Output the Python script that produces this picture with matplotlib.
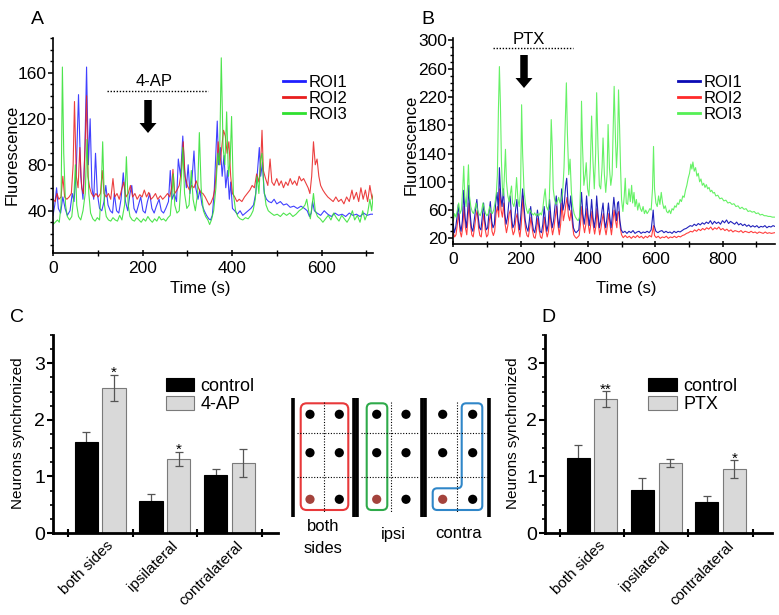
import numpy as np
import matplotlib
matplotlib.use("Agg")
import matplotlib.pyplot as plt
from matplotlib.lines import Line2D
from matplotlib.patches import Circle, FancyBboxPatch, PathPatch, Polygon
from matplotlib.path import Path
from matplotlib.ticker import MultipleLocator
from matplotlib.transforms import ScaledTranslation

plt.rcParams['font.family'] = ['Liberation Sans', 'DejaVu Sans']

# ---- panel A traces (time s, fluorescence) ----
roi1_a = [(0,36),(4,45),(8,60),(12,42),(17,38),(22,52),(27,42),(32,36),(38,40),(43,55),(47,48),(52,75),(57,141),
          (62,70),(67,50),(71,90),(75,165),(79,80),(83,120),(87,60),(91,50),(95,90),(99,55),(104,42),(109,40),
          (114,48),(118,62),(123,45),(128,40),(133,38),(137,55),(142,40),(147,38),(152,50),(157,73),(162,48),
          (167,40),(172,55),(176,62),(181,42),(186,38),(191,45),(196,52),(201,40),(206,38),(211,48),(216,55),
          (221,42),(226,38),(231,44),(237,50),(242,40),(247,38),(252,42),(258,48),(262,75),(266,50),(271,55),
          (276,48),(280,85),(285,70),(290,105),(294,75),(298,60),(302,80),(306,55),(311,70),(315,92),(319,60),
          (324,50),(328,58),(333,45),(338,40),(343,36),(348,33),(352,32),(356,36),(360,55),(364,90),(367,118),
          (370,80),(374,95),(378,70),(382,88),(386,60),(390,75),(394,50),(397,65),(401,42),(406,40),(412,37),
          (418,40),(424,36),(430,38),(436,40),(442,42),(448,45),(453,55),(458,80),(461,95),(464,70),(468,82),
          (472,55),(477,50),(482,48),(488,47),(494,50),(500,46),(508,48),(515,45),(522,46),(530,43),(538,44),
          (546,42),(554,44),(562,42),(568,40),(573,35),(577,38),(580,48),(584,40),(590,38),(598,36),(606,40),
          (614,37),(622,35),(630,38),(638,36),(646,37),(654,35),(662,38),(670,36),(678,37),(686,35),(694,38),
          (702,36),(710,37),(718,37)]
roi2_a = [(0,50),(5,48),(9,55),(13,50),(18,52),(22,70),(26,52),(31,50),(36,52),(41,55),(45,80),(48,135),(52,70),
          (56,60),(60,95),(64,60),(68,55),(72,100),(75,140),(78,70),(82,60),(86,55),(91,52),(96,55),(101,52),
          (106,55),(110,75),(114,55),(119,52),(124,55),(129,50),(134,68),(138,52),(143,55),(148,50),(153,58),
          (158,65),(163,52),(168,55),(173,62),(178,52),(183,55),(188,50),(194,54),(199,52),(204,58),(209,52),
          (214,56),(219,50),(224,52),(229,55),(234,50),(240,53),(245,50),(250,52),(256,55),(261,52),(265,60),
          (268,76),(272,55),(277,58),(282,62),(287,75),(291,100),(295,70),(300,62),(305,58),(310,62),(315,60),
          (320,66),(325,60),(330,56),(335,55),(340,52),(345,48),(349,45),(353,47),(358,52),(362,60),(366,80),
          (369,100),(373,80),(377,95),(381,110),(385,105),(389,90),(393,100),(397,70),(401,55),(406,52),(411,48),
          (416,50),(422,48),(428,52),(434,55),(440,58),(445,62),(450,60),(455,72),(460,65),(464,80),(467,110),
          (470,75),(475,68),(480,62),(485,85),(489,65),(494,62),(500,68),(505,62),(510,66),(515,60),(520,65),
          (525,62),(530,68),(535,63),(540,66),(545,62),(550,70),(555,66),(560,68),(565,64),(570,60),(574,55),
          (578,70),(582,100),(586,80),(590,85),(594,70),(598,62),(603,58),(608,55),(614,52),(620,50),(626,48),
          (632,52),(638,48),(644,50),(650,46),(656,52),(662,48),(668,58),(672,50),(678,56),(683,48),(688,60),
          (693,50),(698,58),(703,48),(708,62),(713,50),(718,58)]
roi3_a = [(0,28),(5,30),(10,32),(14,30),(18,45),(21,165),(24,90),(28,45),(32,35),(37,32),(42,35),(47,55),(50,80),
          (53,45),(57,35),(62,32),(67,40),(72,55),(76,102),(80,55),(84,38),(89,33),(94,31),(99,34),(104,32),
          (108,60),(111,100),(115,45),(119,35),(124,32),(129,31),(134,34),(139,32),(144,31),(149,36),(154,32),
          (160,45),(164,87),(168,45),(172,35),(177,32),(182,31),(187,34),(192,32),(197,30),(202,33),(207,31),
          (212,35),(217,32),(222,30),(227,33),(232,31),(237,35),(242,32),(247,33),(252,31),(257,34),(262,36),
          (266,55),(269,72),(272,45),(277,38),(282,40),(287,70),(290,95),(294,55),(299,42),(304,45),(309,75),
          (313,50),(318,40),(323,55),(327,108),(331,60),(336,40),(341,35),(346,32),(350,28),(354,32),(359,40),
          (364,60),(368,90),(372,80),(376,173),(380,95),(384,80),(388,126),(392,70),(396,85),(399,122),(403,55),
          (408,40),(413,35),(418,33),(424,32),(430,34),(436,33),(442,36),(447,40),(452,50),(456,70),(460,55),
          (464,85),(467,90),(471,60),(476,45),(481,40),(487,38),(494,36),(501,37),(508,35),(515,38),(522,36),
          (529,38),(536,35),(543,37),(550,40),(557,42),(563,45),(567,50),(571,40),(575,33),(579,45),(582,55),
          (586,40),(591,35),(597,33),(603,30),(609,33),(615,36),(621,32),(627,38),(633,34),(639,31),(645,36),
          (651,33),(657,30),(663,34),(669,40),(674,32),(680,36),(686,30),(692,40),(697,32),(703,38),(708,50),
          (712,40),(716,55)]

# ---- panel B traces ----
roi1_b = [(0,40),(3,28),(7,35),(11,50),(15,68),(19,40),(23,30),(27,45),(31,88),(35,50),(39,35),(43,60),(46,95),
          (50,55),(54,35),(58,30),(62,45),(66,60),(70,75),(74,50),(78,35),(82,32),(86,50),(90,70),(94,45),(98,32),
          (102,35),(106,55),(110,72),(114,45),(118,35),(122,40),(126,70),(130,85),(134,60),(137,120),(141,80),
          (145,65),(149,90),(153,55),(157,40),(161,50),(165,70),(169,80),(173,50),(177,35),(181,40),(185,60),
          (189,75),(193,45),(197,32),(201,55),(206,90),(210,65),(214,45),(218,35),(222,30),(226,45),(230,65),
          (234,45),(238,32),(242,28),(246,40),(250,60),(254,45),(258,30),(262,28),(266,40),(270,65),(274,45),
          (278,30),(282,40),(286,75),(290,50),(294,35),(298,45),(302,65),(306,80),(310,50),(314,35),(318,55),
          (322,90),(326,60),(330,70),(334,95),(337,105),(341,70),(345,60),(349,80),(353,55),(357,35),(361,30),
          (365,28),(369,30),(373,32),(377,55),(381,85),(385,55),(389,40),(393,55),(396,80),(400,55),(404,38),
          (408,55),(411,75),(415,50),(419,35),(423,50),(426,80),(430,55),(434,35),(438,45),(442,60),(445,70),
          (449,45),(453,35),(457,50),(461,70),(465,50),(469,35),(473,55),(477,78),(481,60),(485,45),(488,70),
          (491,72),(495,45),(499,32),(504,28),(510,30),(516,27),(522,30),(528,28),(534,31),(540,27),(546,29),
          (552,30),(558,27),(564,29),(570,28),(576,30),(582,28),(588,32),(591,45),(594,60),(597,38),(602,30),
          (608,28),(614,30),(620,31),(626,28),(632,30),(638,28),(644,29),(650,27),(656,30),(662,28),(668,30),
          (674,29),(680,31),(686,33),(692,34),(698,36),(704,38),(710,37),(716,40),(722,38),(728,41),(734,39),
          (740,42),(746,40),(752,43),(758,41),(764,45),(770,40),(776,44),(782,41),(788,43),(794,40),(800,45),
          (806,42),(812,46),(818,41),(824,44),(830,42),(836,40),(842,43),(848,39),(854,41),(860,38),(866,40),
          (872,37),(878,39),(884,36),(890,38),(896,36),(902,38),(908,35),(914,37),(920,36),(926,38),(932,35),
          (938,37),(944,36),(950,38),(955,37)]
roi2_b = [(0,28),(4,22),(8,25),(12,40),(16,55),(20,30),(24,22),(28,35),(32,65),(36,35),(40,25),(44,50),(47,70),
          (51,40),(55,25),(59,22),(63,35),(67,50),(71,60),(75,35),(79,24),(83,22),(87,40),(91,55),(95,32),(99,22),
          (103,25),(107,45),(111,55),(115,30),(119,24),(123,30),(127,55),(131,65),(135,50),(138,90),(142,60),
          (146,50),(150,70),(154,40),(158,28),(162,38),(166,55),(170,60),(174,35),(178,25),(182,30),(186,48),
          (190,55),(194,32),(198,22),(202,40),(207,80),(211,50),(215,32),(219,24),(223,22),(227,35),(231,50),
          (235,32),(239,22),(243,20),(247,30),(251,48),(255,32),(259,22),(263,20),(267,30),(271,50),(275,32),
          (279,22),(283,30),(287,58),(291,38),(295,25),(299,35),(303,50),(307,65),(311,38),(315,25),(319,40),
          (323,70),(327,45),(331,55),(335,70),(338,78),(342,52),(346,45),(350,60),(354,40),(358,25),(362,22),
          (366,20),(370,22),(374,24),(378,40),(382,65),(386,40),(390,28),(394,40),(397,62),(401,40),(405,27),
          (409,42),(412,58),(416,38),(420,26),(424,38),(427,62),(431,40),(435,25),(439,35),(443,48),(446,55),
          (450,35),(454,25),(458,38),(462,55),(466,38),(470,25),(474,42),(478,60),(482,45),(486,35),(489,55),
          (492,58),(496,35),(500,25),(505,21),(511,24),(517,21),(523,23),(529,20),(535,23),(541,21),(547,24),
          (553,21),(559,23),(565,20),(571,23),(577,21),(583,24),(589,22),(592,30),(595,38),(598,24),(603,21),
          (609,23),(615,20),(621,22),(627,21),(633,23),(639,20),(645,22),(651,21),(657,23),(663,21),(669,23),
          (675,22),(681,24),(687,25),(693,27),(699,28),(705,30),(711,29),(717,32),(723,30),(729,33),(735,31),
          (741,34),(747,32),(753,35),(759,33),(765,36),(771,32),(777,35),(783,33),(789,36),(795,32),(801,34),
          (807,31),(813,33),(819,30),(825,32),(831,29),(837,31),(843,30),(849,29),(855,31),(861,28),(867,30),
          (873,29),(879,28),(885,30),(891,28),(897,29),(903,27),(909,29),(915,28),(921,27),(927,29),(933,27),
          (939,28),(945,27),(955,28)]
roi3_b = [(0,45),(4,55),(8,50),(12,60),(16,70),(20,55),(24,60),(28,90),(31,122),(34,80),(38,65),(42,90),(45,124),
          (48,80),(52,65),(56,58),(60,55),(64,62),(68,70),(72,60),(76,55),(80,52),(84,58),(88,70),(92,62),(96,55),
          (100,52),(104,55),(108,65),(112,58),(116,55),(120,60),(124,70),(128,85),(131,110),(134,200),(137,263),
          (140,210),(143,130),(146,90),(149,80),(152,110),(155,146),(158,100),(162,80),(166,72),(170,85),(173,94),
          (176,70),(180,65),(184,75),(188,106),(192,75),(196,65),(200,90),(203,209),(206,140),(210,90),(214,70),
          (218,60),(222,55),(226,62),(230,58),(234,55),(238,53),(242,56),(246,52),(250,55),(254,52),(258,56),
          (262,53),(266,62),(270,80),(273,90),(277,65),(281,60),(285,70),(288,120),(291,188),(294,150),(297,90),
          (301,75),(305,68),(309,72),(313,78),(317,70),(321,75),(325,85),(329,120),(333,190),(336,240),(339,170),
          (343,110),(347,132),(351,85),(355,65),(359,55),(363,50),(367,47),(371,45),(375,50),(378,90),(381,214),
          (384,150),(388,95),(392,110),(395,127),(399,90),(403,80),(407,120),(411,193),(415,130),(419,90),
          (423,140),(426,226),(430,150),(434,95),(438,90),(442,120),(445,162),(449,110),(453,85),(457,110),
          (460,181),(464,120),(468,95),(472,110),(475,170),(478,235),(482,160),(485,120),(488,150),(491,230),
          (494,180),(497,120),(500,75),(504,58),(508,80),(511,105),(514,70),(518,68),(522,90),(526,72),(530,95),
          (533,70),(537,85),(540,65),(544,75),(548,60),(552,70),(556,62),(560,58),(564,65),(568,55),(572,60),
          (576,55),(580,58),(584,62),(588,60),(592,90),(595,150),(598,90),(602,70),(606,65),(610,80),(614,68),
          (618,85),(622,70),(626,62),(630,66),(634,58),(638,56),(642,60),(646,55),(650,62),(654,60),(658,66),
          (662,64),(666,70),(670,68),(674,75),(678,72),(682,80),(686,78),(690,88),(694,95),(698,105),(702,112),
          (706,125),(709,118),(712,128),(716,115),(720,120),(724,108),(728,112),(732,100),(736,104),(740,95),
          (744,98),(748,92),(752,96),(756,90),(760,92),(764,86),(768,88),(772,84),(776,85),(780,80),(786,81),
          (792,76),(798,77),(804,73),(810,74),(816,70),(822,71),(828,68),(834,69),(840,65),(846,66),(852,62),
          (858,64),(864,61),(870,62),(876,58),(882,59),(888,57),(894,58),(900,55),(906,56),(912,53),(918,54),
          (924,52),(930,52),(936,51),(942,51),(948,50),(955,50)]

# ---- bar panels ----
categories = ['both sides', 'ipsilateral', 'contralateral']
ctrl_c = [1.61, 0.56, 1.03]
ctrl_c_err = [0.17, 0.13, 0.10]
fourap = [2.57, 1.31, 1.24]
fourap_err = [0.23, 0.13, 0.25]
ctrl_d = [1.33, 0.76, 0.55]
ctrl_d_err = [0.22, 0.21, 0.10]
ptx = [2.37, 1.24, 1.13]
ptx_err = [0.14, 0.07, 0.16]
stars_c = ['*', '*', '']
stars_d = ['**', '', '*']

W, H = 779, 615
fig = plt.figure(figsize=(W / 100, H / 100), dpi=100)


def box(l, t, r, b):
    return [l / W, 1 - b / H, (r - l) / W, (b - t) / H]


def trace_axes(ax):
    for s in ['top', 'right']:
        ax.spines[s].set_visible(False)
    for s in ['left', 'bottom']:
        ax.spines[s].set_linewidth(1.2)
    ax.tick_params(axis='y', which='major', direction='out', length=3.5, width=1.1, pad=1, labelsize=12.5)
    ax.tick_params(axis='y', which='minor', direction='out', length=2.2, width=1.0)
    ax.tick_params(axis='x', which='major', direction='inout', length=5, width=1.1, pad=3, labelsize=12.5)
    ax.tick_params(axis='x', which='minor', direction='inout', length=4, width=1.0)


colsA = ['#1f1fff', '#e81e1e', '#2fe02f']
colsB = ['#0a0ab4', '#ff2a2a', '#55f055']

axA = fig.add_axes(box(53, 38.3, 373, 253.3))
for data, c in zip([roi1_a, roi2_a, roi3_a], colsA):
    t, v = np.array(data).T
    axA.plot(t, v, color=c, lw=0.8, alpha=0.85)
axA.set_xlim(0, 715)
axA.set_ylim(3, 190)
axA.set_xticks([0, 200, 400, 600])
axA.xaxis.set_minor_locator(MultipleLocator(100))
axA.set_yticks([40, 80, 120, 160])
axA.yaxis.set_minor_locator(MultipleLocator(10))
trace_axes(axA)
hA = [Line2D([], [], color=c, lw=2) for c in colsA]
axA.legend(hA, ['ROI1', 'ROI2', 'ROI3'], loc='upper left', bbox_to_anchor=(0.72, 0.83), frameon=False,
           fontsize=12, handlelength=1.3, handletextpad=0.2, labelspacing=0.05, borderpad=0, borderaxespad=0)

axB = fig.add_axes(box(453.3, 38.3, 775, 244))
for data, c in zip([roi2_b, roi1_b, roi3_b], [colsB[1], colsB[0], colsB[2]]):
    t, v = np.array(data).T
    axB.plot(t, v, color=c, lw=0.8, alpha=0.9)
axB.set_xlim(0, 956)
axB.set_ylim(12, 303)
axB.set_xticks([0, 200, 400, 600, 800])
axB.xaxis.set_minor_locator(MultipleLocator(100))
axB.set_yticks(np.arange(20, 301, 40))
axB.yaxis.set_minor_locator(MultipleLocator(10))
trace_axes(axB)
hB = [Line2D([], [], color=c, lw=2) for c in colsB]
axB.legend(hB, ['ROI1', 'ROI2', 'ROI3'], loc='upper left', bbox_to_anchor=(0.70, 0.82), frameon=False,
           fontsize=12, handlelength=1.3, handletextpad=0.2, labelspacing=0.05, borderpad=0, borderaxespad=0)


def bar_panel(ax, ctrl, ctrl_err, treat, treat_err, stars, tname, leg_x, xmax):
    x = np.arange(len(categories))
    ax.errorbar(x - 0.215, np.array(ctrl), yerr=ctrl_err, fmt='none', ecolor='#555555', elinewidth=0.9,
                capsize=3, capthick=0.9, zorder=1)
    b1 = ax.bar(x - 0.215, ctrl, 0.36, color='black', edgecolor='black', lw=0.8, zorder=2)
    b2 = ax.bar(x + 0.215, treat, 0.36, color='#d9d9d9', edgecolor='#7a7a7a', lw=0.8, zorder=2)
    ax.errorbar(x + 0.215, np.array(treat), yerr=treat_err, fmt='none', ecolor='#555555', elinewidth=0.9,
                capsize=3, capthick=0.9, zorder=3)
    for xi, yi, ei, s in zip(x, treat, treat_err, stars):
        if s:
            ax.text(xi + 0.215, yi + ei - 0.1, s, ha='center', va='bottom', fontsize=11)
    ax.set_xlim(-0.73, xmax)
    ax.set_ylim(0, 3.5)
    for s in ['top', 'right']:
        ax.spines[s].set_visible(False)
    for s in ['left', 'bottom']:
        ax.spines[s].set_linewidth(2)
    ax.set_yticks([0, 1, 2, 3])
    ax.yaxis.set_minor_locator(MultipleLocator(0.25))
    ax.tick_params(axis='y', which='major', direction='out', length=4, width=1.5, pad=1.5, labelsize=14)
    ax.tick_params(axis='y', which='minor', direction='out', length=2.5, width=1.2)
    ax.set_xticks(x)
    ax.set_xticklabels(categories, rotation=45, ha='right', rotation_mode='anchor', fontsize=11)
    ax.set_xticks(np.arange(-0.5, 3.0, 1.0), minor=True)
    ax.tick_params(axis='x', which='major', length=0, pad=4)
    ax.tick_params(axis='x', which='minor', direction='inout', length=6, width=1.5)
    off = ScaledTranslation(6 / 100, 0, fig.dpi_scale_trans)
    for lbl in ax.get_xticklabels():
        lbl.set_transform(lbl.get_transform() + off)
    ax.legend([b1, b2], ['control', tname], loc='upper left', bbox_to_anchor=(leg_x, 0.785), frameon=False,
              fontsize=13, handlelength=1.6, handleheight=0.75, handletextpad=0.35, labelspacing=0.1,
              borderpad=0, borderaxespad=0)


axC = fig.add_axes(box(53, 335, 278, 533))
bar_panel(axC, ctrl_c, ctrl_c_err, fourap, fourap_err, stars_c, '4-AP', 0.50, 2.75)
axD = fig.add_axes(box(545, 335, 772, 533))
bar_panel(axD, ctrl_d, ctrl_d_err, ptx, ptx_err, stars_d, 'PTX', 0.455, 2.80)

# ---- overlay in pixel coordinates: labels, arrows, schematic ----
ov = fig.add_axes([0, 0, 1, 1], zorder=10)
ov.set_xlim(0, W)
ov.set_ylim(H, 0)
ov.axis('off')
ov.patch.set_alpha(0)

for lab, px, py in [('A', 37, 20), ('B', 428, 20), ('C', 17, 318), ('D', 548, 318)]:
    ov.text(px, py, lab, fontsize=14, ha='center', va='center')
ov.text(12, 155, 'Fluorescence', rotation=90, fontsize=12, ha='center', va='center')
ov.text(411, 145, 'Fluorescence', rotation=90, fontsize=12, ha='center', va='center')
ov.text(200, 288, 'Time (s)', fontsize=12, ha='center', va='center')
ov.text(626, 289, 'Time (s)', fontsize=12, ha='center', va='center')
ov.text(18, 433, 'Neurons synchronized', rotation=90, fontsize=11, ha='center', va='center')
ov.text(513, 433, 'Neurons synchronized', rotation=90, fontsize=11, ha='center', va='center')

# treatment bars and arrows
ov.text(154, 81, '4-AP', fontsize=12, ha='center', va='center')
ov.plot([107, 208], [90.7, 90.7], color='black', lw=1, ls=(0, (1, 1.2)))
ov.text(529, 40, 'PTX', fontsize=12, ha='center', va='center')
ov.plot([493, 573], [48.3, 48.3], color='black', lw=1, ls=(0, (1, 1.2)))


def down_arrow(cx, top, tip, shaft=7.5, head=17, hl=10):
    pts = [(cx - shaft / 2, top), (cx + shaft / 2, top), (cx + shaft / 2, tip - hl), (cx + head / 2, tip - hl),
           (cx, tip), (cx - head / 2, tip - hl), (cx - shaft / 2, tip - hl)]
    ov.add_patch(Polygon(pts, closed=True, color='black', lw=0))


down_arrow(148, 100, 133)
down_arrow(524, 55, 88)

# schematic
for xb in [293.3, 354, 357.3, 421.7, 425, 489.3]:
    ov.plot([xb, xb], [398.3, 517.3], color='black', lw=2.6, solid_capstyle='butt')
dot_style = dict(color='black', lw=0.8, ls=(0, (1, 1.5)))
for xv in [324, 390.7, 457.3]:
    ov.plot([xv, xv], [401.7, 513.3], **dot_style)
for x0, x1 in [(297, 351), (361.5, 418.5), (428, 487)]:
    for yh in [433.3, 477.3]:
        ov.plot([x0, x1], [yh, yh], **dot_style)
for cols in [(310, 339.3), (376.7, 406), (442.7, 472.7)]:
    for j, yr in enumerate([414.3, 452.7, 499.3]):
        for i, xc in enumerate(cols):
            fc = '#a4433c' if (i == 0 and j == 2) else 'black'
            ov.add_patch(Circle((xc, yr), 4.6, color=fc, lw=0))

ov.add_patch(FancyBboxPatch((300.7, 403.3), 47.6, 106.7, boxstyle='round,pad=0,rounding_size=6',
                            fill=False, ec='#e8383a', lw=1.5))
ov.add_patch(FancyBboxPatch((366.7, 403.3), 20.6, 106.7, boxstyle='round,pad=0,rounding_size=5',
                            fill=False, ec='#2eaa4a', lw=1.5))


def rounded_path(pts, r):
    verts, codes = [], []
    n = len(pts)
    for i in range(n):
        p0, p1, p2 = np.array(pts[i - 1], float), np.array(pts[i], float), np.array(pts[(i + 1) % n], float)
        a = p1 + (p0 - p1) / np.linalg.norm(p0 - p1) * r
        b = p1 + (p2 - p1) / np.linalg.norm(p2 - p1) * r
        verts.append(a)
        codes.append(Path.MOVETO if i == 0 else Path.LINETO)
        verts += [p1, b]
        codes += [Path.CURVE3, Path.CURVE3]
    verts.append(verts[0])
    codes.append(Path.CLOSEPOLY)
    return Path(verts, codes)


lpts = [(461.7, 403.3), (482.3, 403.3), (482.3, 510), (432.7, 510), (432.7, 488.3), (461.7, 488.3)]
ov.add_patch(PathPatch(rounded_path(lpts, 4.5), fill=False, ec='#2f86c8', lw=1.5))

ov.text(323.3, 526.7, 'both', fontsize=12, ha='center', va='center')
ov.text(323.3, 548.3, 'sides', fontsize=12, ha='center', va='center')
ov.text(393.3, 534, 'ipsi', fontsize=12, ha='center', va='center')
ov.text(458.3, 534, 'contra', fontsize=12, ha='center', va='center')

fig.savefig('out.png', dpi=100)
